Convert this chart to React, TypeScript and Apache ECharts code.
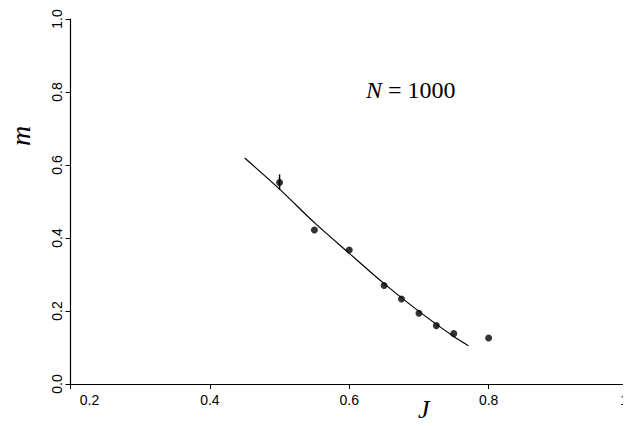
import React, { useEffect, useRef } from 'react';
import * as echarts from 'echarts';

// measured points (J, m)
const pointJ = [0.5, 0.55, 0.6, 0.65, 0.675, 0.7, 0.725, 0.75, 0.8];
const pointM = [0.552, 0.422, 0.367, 0.27, 0.233, 0.194, 0.16, 0.138, 0.126];

// error bars: [J, low, high]
const errJ = [0.5];
const errLow = [0.532];
const errHigh = [0.574];

// fitted curve
const lineJ = [0.45, 0.5, 0.55, 0.6, 0.65, 0.7, 0.75, 0.771];
const lineM = [0.619, 0.534, 0.442, 0.358, 0.275, 0.199, 0.13, 0.105];

const xTicks = [0.2, 0.4, 0.6, 0.8, 1];

export default function App() {
  const ref = useRef<HTMLDivElement | null>(null);

  useEffect(() => {
    if (!ref.current) return;
    const inst = echarts.init(ref.current, undefined, { renderer: 'svg' });
    const tickFont = 'Liberation Sans, Arial, sans-serif';
    inst.setOption({
      animation: false,
      backgroundColor: '#fff',
      grid: { left: 70.5, right: 3, top: 19, bottom: 42 },
      xAxis: {
        type: 'value',
        min: 0.2,
        max: 1,
        interval: 0.2,
        axisLine: { lineStyle: { color: '#000', width: 1.2 } },
        axisTick: { inside: false, length: 5, lineStyle: { color: '#000' } },
        axisLabel: {
          color: '#000',
          fontSize: 14,
          fontFamily: tickFont,
          margin: 9,
          showMaxLabel: true,
          showMinLabel: true,
          alignMaxLabel: 'right',
          formatter: (v: number) => {
            const t = xTicks.find((x) => Math.abs(x - v) < 1e-6);
            if (t === undefined) return '';
            if (t === 0.2) return '{m|0.2}';
            return t === 1 ? '1' : t.toFixed(1);
          },
          rich: {
            m: { padding: [0, 0, 0, 38], fontSize: 14, fontFamily: tickFont, color: '#000' },
          },
        },
        splitLine: { show: false },
      },
      yAxis: {
        type: 'value',
        min: 0,
        max: 1,
        interval: 0.2,
        axisLine: { lineStyle: { color: '#000', width: 1.2 } },
        axisTick: { length: 5, lineStyle: { color: '#000' } },
        axisLabel: {
          color: '#000',
          fontSize: 14,
          fontFamily: tickFont,
          rotate: 90,
          margin: 7,
          formatter: (v: number) => v.toFixed(1),
        },
        splitLine: { show: false },
      },
      graphic: [
        {
          type: 'text',
          x: 20,
          y: 136,
          rotation: Math.PI / 2,
          style: { text: 'm', font: 'italic 28px "Liberation Serif", serif', fill: '#000', align: 'center', verticalAlign: 'middle' },
        },
        {
          type: 'text',
          left: 418,
          top: 396,
          style: { text: 'J', font: 'italic 26px "Liberation Serif", serif', fill: '#000' },
        },
        {
          type: 'text',
          left: 366,
          top: 78,
          style: {
            text: '{i|N} = 1000',
            font: '24px "Liberation Serif", serif',
            fill: '#000',
            rich: { i: { fontStyle: 'italic', fontSize: 24, fontFamily: 'Liberation Serif, serif' } },
          },
        },
      ],
      series: [
        {
          type: 'line',
          data: lineJ.map((j, i) => [j, lineM[i]]),
          smooth: 0.3,
          showSymbol: false,
          lineStyle: { color: '#000', width: 1.2 },
        },
        {
          type: 'scatter',
          data: pointJ.map((j, i) => [j, pointM[i]]),
          symbolSize: 7,
          itemStyle: { color: '#000' },
        },
        {
          type: 'custom',
          data: errJ.map((j, i) => [j, errLow[i], errHigh[i]]),
          renderItem: (_p: any, api: any) => {
            const lo = api.coord([api.value(0), api.value(1)]);
            const hi = api.coord([api.value(0), api.value(2)]);
            return {
              type: 'line',
              shape: { x1: lo[0], y1: lo[1], x2: hi[0], y2: hi[1] },
              style: { stroke: '#000', lineWidth: 1.5 },
            };
          },
        },
      ],
    });
    return () => inst.dispose();
  }, []);

  return <div ref={ref} style={{ width: 631, height: 426, margin: -8 }} />;
}
